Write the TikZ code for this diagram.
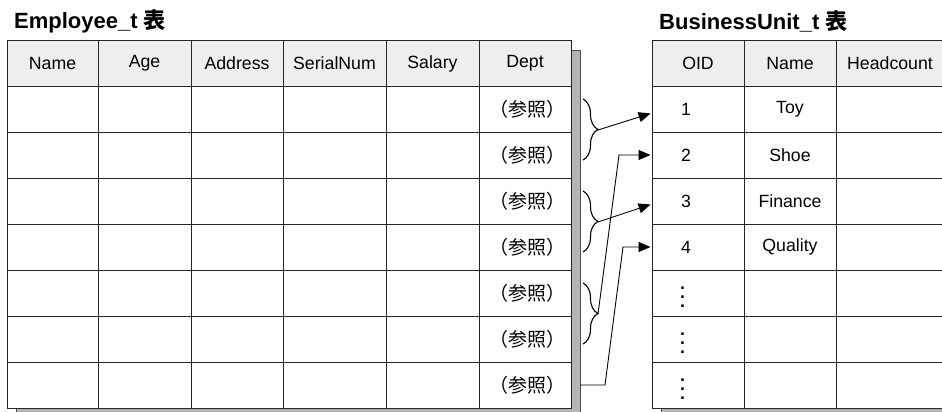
\documentclass[tikz,border=0pt]{standalone}
\usepackage{fontspec}
\setmainfont{Liberation Sans}
\newfontfamily\cjk{Noto Sans CJK JP}
\newfontfamily\cjkref{Noto Sans CJK JP}[RawFeature=+halt]
\usetikzlibrary{arrows}
\usetikzlibrary{arrows.meta}
\usetikzlibrary{positioning}
\usetikzlibrary{decorations.pathreplacing}
\definecolor{headgray}{RGB}{238,238,238}
\definecolor{shadowgray}{RGB}{180,180,180}
\newcommand{\coldots}{\vbox{\baselineskip9pt\lineskiplimit0pt\hbox{.}\hbox{.}\hbox{.}}}

\begin{document}
\begin{tikzpicture}[x=1pt,y=-1pt]
\tikzstyle{cell}=[rectangle,draw=black!85,line width=1pt,anchor=north west,
inner sep=0pt,outer sep=0pt,minimum height=46pt,font=\fontsize{17.7}{20}\selectfont]
\tikzstyle{head}=[cell,fill=headgray,minimum height=45pt]
\tikzstyle{value}=[inner sep=0pt,font=\fontsize{17.7}{20}\selectfont]
\tikzstyle{shadow}=[fill=shadowgray,draw=black!70,line width=0.8pt]
\tikzstyle{title}=[anchor=west,inner sep=0pt,font=\bfseries\fontsize{22}{24}\selectfont]
\tikzstyle{link}=[-{Triangle[length=12pt,width=10pt]},line width=0.9pt,shorten >=1.5pt]
\tikzstyle{group}=[decorate,decoration={brace,amplitude=15pt},line width=1.1pt]
\useasboundingbox (0,0) rectangle (942,412);
\clip (0,0) rectangle (942,412);
\fill[white] (0,0) rectangle (942,412);
% shadows
\filldraw[shadow] (16,50) rectangle (580,420);
\filldraw[shadow] (661,50) rectangle (955,420);
% Employee_t
\node[title] (emptitle) at (14,21) {Employee\_t {\cjk 表}};
\foreach \x/\w/\t [count=\c] in {7/91/Name,98/93/Age,191/92/Address,283/103/SerialNum,386/93/Salary,479/92/Dept}
{
\node[head,minimum width=\w pt] (emp-\c-0) at (\x,41) {\t};
\foreach \r in {1,...,7}
\node[cell,fill=white,minimum width=\w pt] (emp-\c-\r) at (\x,{86+46*(\r-1)}) {};
}
\foreach \r in {1,...,7}
\node[value,font=\cjkref\fontsize{19}{21}\selectfont] (ref-\r) at ([xshift=2pt]emp-6-\r.center) {（参照）};
% BusinessUnit_t
\node[title] (butitle) at (659,21) {BusinessUnit\_t {\cjk 表}};
\foreach \x/\w/\t [count=\c] in {652/92/OID,744/92/Name,836/108/Headcount}
{
\node[head,minimum width=\w pt] (bu-\c-0) at (\x,41) {\t};
\foreach \r in {1,...,7}
\node[cell,fill=white,minimum width=\w pt] (bu-\c-\r) at (\x,{86+46*(\r-1)}) {};
}
\foreach \n [count=\r] in {1,2,3,4}
\node[value,anchor=west] (oid-\r) at ([xshift=29pt]bu-1-\r.west) {\n};
\foreach \r in {5,6,7}
\node[value,anchor=west,font=\bfseries\fontsize{17.7}{20}\selectfont] (oid-\r) at ([xshift=28pt,yshift=-4pt]bu-1-\r.west) {\coldots};
\foreach \t [count=\r] in {Toy,Shoe,Finance,Quality}
\node[value] (unit-\r) at (bu-2-\r.center) {\t};
% braces
\draw[group] (583,99) -- (583,160);
\draw[group] (583,191) -- (583,252);
\draw[group] (583,283) -- (583,344);
\coordinate (tip1) at (598,130);
\coordinate (tip2) at (598,222);
\coordinate (tip3) at (598,314);
\coordinate (out7) at ([xshift=9pt]emp-6-7.east);
% references
\draw[link] (tip1) -- ([yshift=-4pt]bu-1-1.west);
\draw[link] (tip3) -- ([xshift=-33pt]bu-1-2.west) -- (bu-1-2.west);
\draw[link] (tip2) -- ([yshift=-3pt]bu-1-3.west);
\draw[link] (out7) -- ([xshift=25pt]out7) -- ([xshift=-29pt]bu-1-4.west) -- (bu-1-4.west);
\end{tikzpicture}
\end{document}
